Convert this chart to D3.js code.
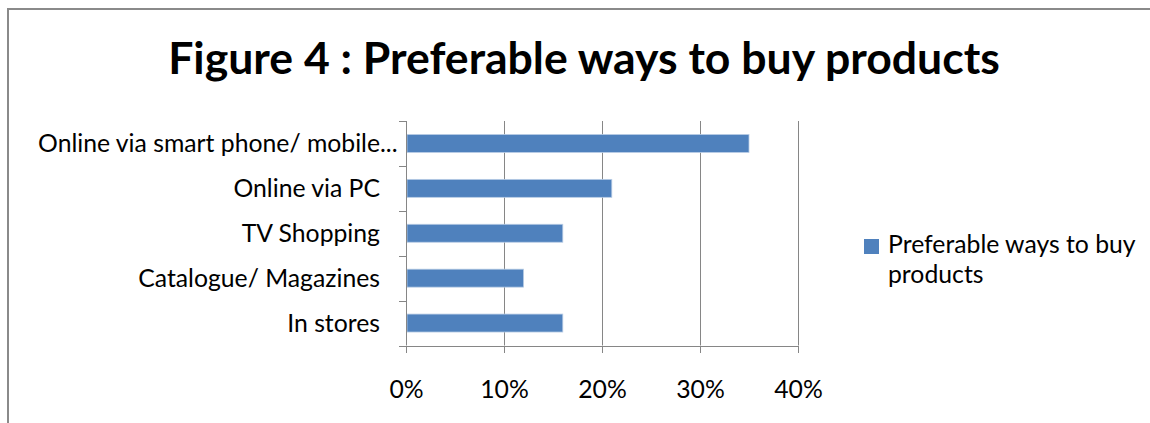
<!DOCTYPE html>
<html>
<head>
<meta charset="utf-8">
<script src="https://cdn.jsdelivr.net/npm/d3@7"></script>
<style>
    body { margin: 0; background: #fff; }
    text { font-family: Lato, "Open Sans", sans-serif; fill: #000; }
</style>
</head>
<body>
<script>
// chart data
var categories = ['Online via smart phone/ mobile...', 'Online via PC', 'TV Shopping', 'Catalogue/ Magazines', 'In stores'];
var values     = [0.35, 0.21, 0.16, 0.12, 0.16];
var xTicks     = [0, 0.1, 0.2, 0.3, 0.4];
var titleText  = 'Figure 4 : Preferable ways to buy products';
var seriesName = ['Preferable ways to buy', 'products'];

// init
var width    = 1150,
    height   = 423,
    barColor = '#4f81bd',
    gridColor = '#868686',
    plot     = { left: 406, right: 798, top: 121, bottom: 345.5 };

// scale for x-axis
var xScale = d3.scaleLinear().domain([0, 0.4]).range([plot.left, plot.right]);

// scale for y-axis
var yScale = d3.scaleBand()
    .domain(categories)
    .range([plot.top, plot.bottom])
    .paddingInner(0.6)
    .paddingOuter(0.3);

// create svg
var svg = d3.select('body')
    .append('svg')
    .attr('width', width)
    .attr('height', height);

// chart frame (runs off the page right and bottom)
svg.append('rect')
    .attr('x', 8)
    .attr('y', 9)
    .attr('width', 1200)
    .attr('height', 500)
    .attr('fill', 'none')
    .attr('stroke', '#8a8a8a')
    .attr('stroke-width', 2);

/**
 * scale font size so that a text gets the wanted width
 * @param {*} sel 
 * @param {*} target 
 * @returns font size
 */
function fitText(sel, target) {
    var fs = parseFloat(sel.attr('font-size'));
    var w = sel.node().getComputedTextLength();
    fs = fs * target / w;
    sel.attr('font-size', fs);
    return fs;
}

/**
 * snap to the pixel grid so 1px lines stay sharp
 * @param {*} v 
 * @returns 
 */
function crisp(v) {
    return Math.round(v) + 0.5;
}

// title
var title = svg.append('text')
    .attr('x', 584)
    .attr('y', 74)
    .attr('text-anchor', 'middle')
    .attr('font-size', 40)
    .attr('font-weight', 'bold')
    .text(titleText);
fitText(title, 832);

// measure the label font size from the longest label
var probe = svg.append('text')
    .attr('font-size', 20)
    .text(categories[0].replace('...', ''));
var fs = fitText(probe, 342);
probe.remove();

// gridlines
svg.append('g')
    .selectAll('line')
    .data(xTicks.slice(1))
    .join('line')
    .attr('x1', function(d) { return crisp(xScale(d)); })
    .attr('x2', function(d) { return crisp(xScale(d)); })
    .attr('y1', plot.top)
    .attr('y2', plot.bottom)
    .attr('stroke', gridColor)
    .attr('stroke-width', 1);

// bars
svg.append('g')
    .selectAll('rect')
    .data(categories)
    .join('rect')
    .attr('x', xScale(0) + 1)
    .attr('y', function(d) { return yScale(d); })
    .attr('width', function(d, i) { return xScale(values[i]) - xScale(0) - 1; })
    .attr('height', yScale.bandwidth())
    .attr('fill', barColor)
    .attr('stroke', '#b9cde5')
    .attr('stroke-width', 0.8);

// x axis
var xAxis = svg.append('g')
    .attr('transform', 'translate(0,' + Math.round(plot.bottom) + ')')
    .call(d3.axisBottom(xScale)
        .tickValues(xTicks)
        .tickFormat(d3.format('.0%'))
        .tickSize(7)
        .tickPadding(27)
        .tickSizeOuter(0));
xAxis.select('.domain')
    .attr('stroke', gridColor)
    .attr('d', 'M' + (plot.left - 7) + ',0.5H' + (plot.right + 1));
xAxis.selectAll('.tick').attr('transform', function(d) {
    return 'translate(' + crisp(xScale(d)) + ',0)';
});
xAxis.selectAll('.tick line').attr('stroke', gridColor);
xAxis.selectAll('.tick text')
    .attr('font-family', null)
    .attr('font-size', fs)
    .attr('fill', '#000');

// y axis line and the ticks between categories
var step = yScale.step();
var bounds = categories.map(function(d) {
    return yScale(d) - (step - yScale.bandwidth()) / 2;
});
bounds.push(plot.bottom);

var yAxis = svg.append('g');
yAxis.append('line')
    .attr('x1', crisp(plot.left))
    .attr('x2', crisp(plot.left))
    .attr('y1', plot.top)
    .attr('y2', plot.bottom)
    .attr('stroke', gridColor);
yAxis.selectAll('.ytick')
    .data(bounds.slice(0, -1))
    .join('line')
    .attr('class', 'ytick')
    .attr('x1', plot.left - 7)
    .attr('x2', plot.left)
    .attr('y1', function(d) { return crisp(d); })
    .attr('y2', function(d) { return crisp(d); })
    .attr('stroke', gridColor);

// category labels (ellipsis hangs past the right edge, as Excel does)
yAxis.selectAll('.ylabel')
    .data(categories)
    .join('text')
    .attr('class', 'ylabel')
    .attr('x', 380)
    .attr('y', function(d) { return yScale(d) + yScale.bandwidth() / 2; })
    .attr('dy', '0.36em')
    .attr('text-anchor', 'end')
    .attr('font-size', fs)
    .text(function(d) { return d.replace('...', ''); });
yAxis.selectAll('.yellipsis')
    .data(categories.filter(function(d) { return d.endsWith('...'); }))
    .join('text')
    .attr('class', 'yellipsis')
    .attr('x', 380)
    .attr('y', function(d) { return yScale(d) + yScale.bandwidth() / 2; })
    .attr('dy', '0.36em')
    .attr('font-size', fs)
    .text('...');

// legend
var legend = svg.append('g');
legend.append('rect')
    .attr('x', 864)
    .attr('y', 239)
    .attr('width', 15)
    .attr('height', 15)
    .attr('fill', barColor);
legend.append('text')
    .attr('x', 888)
    .attr('y', 253)
    .attr('font-size', fs)
    .selectAll('tspan')
    .data(seriesName)
    .join('tspan')
    .attr('x', 888)
    .attr('dy', function(d, i) { return i ? 30 : 0; })
    .text(function(d) { return d; });
</script>
</body>
</html>
